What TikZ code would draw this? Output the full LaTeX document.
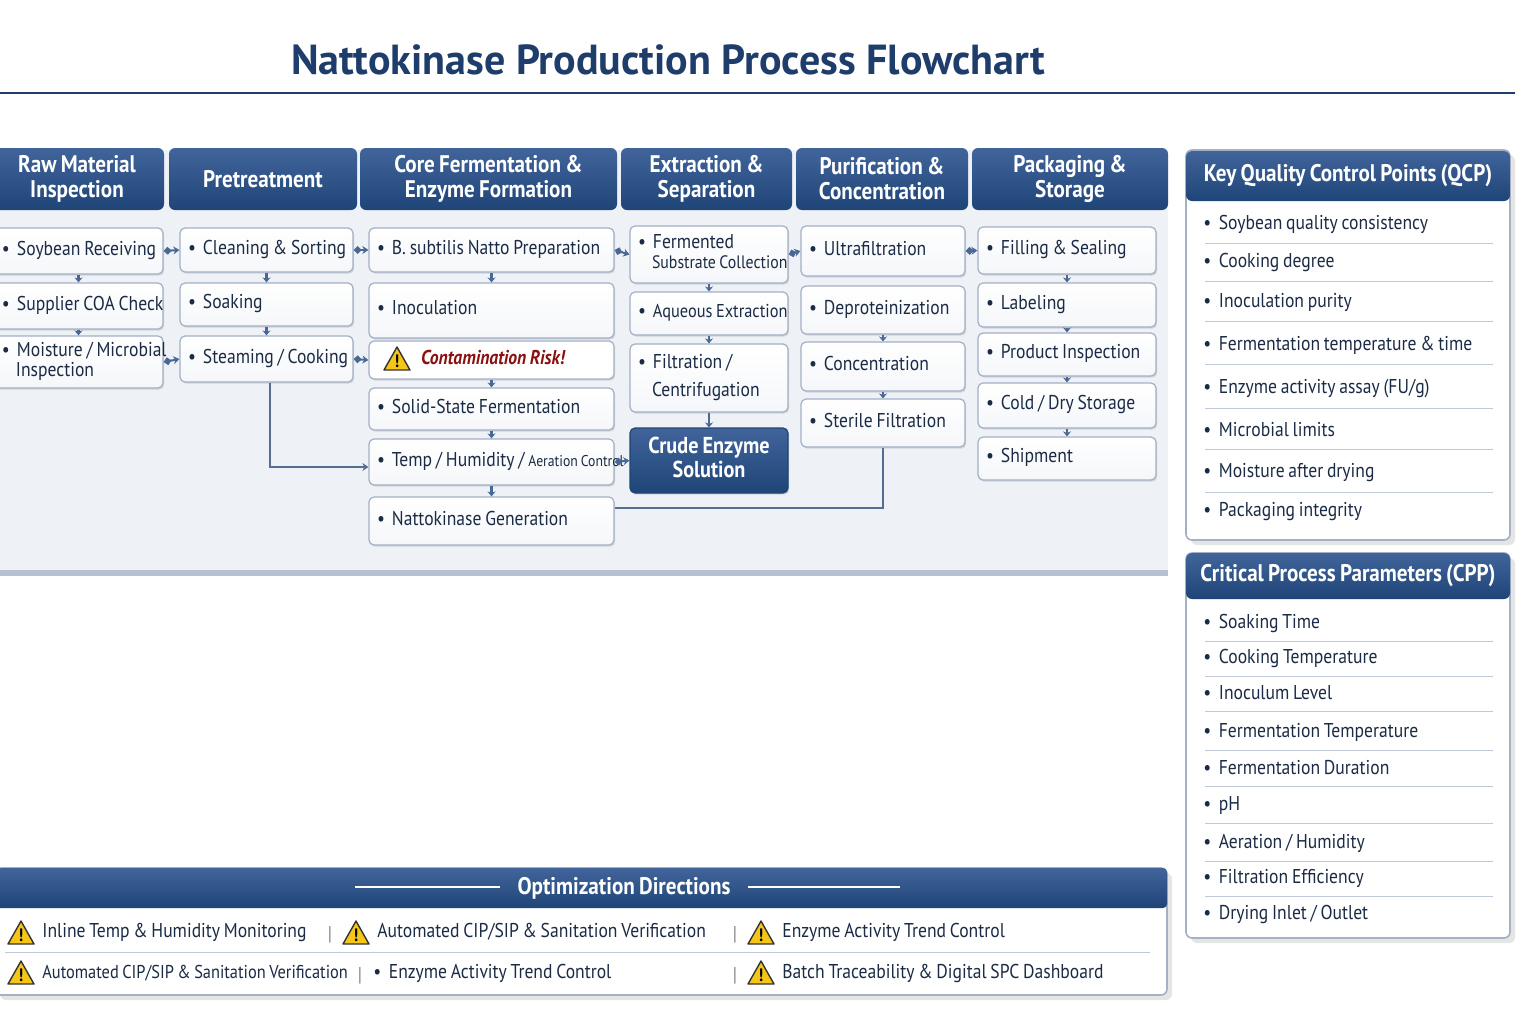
\documentclass[tikz,border=0pt]{standalone}
\usepackage{fontspec}
\setmainfont{PT Sans}[FakeStretch=0.88,WordSpace=0.8]
\newfontfamily\widefont{PT Sans}
\usetikzlibrary{arrows.meta,shadows}
\definecolor{navy}{HTML}{1F3D6B}
\definecolor{hdtop}{HTML}{41659A}
\definecolor{hdbot}{HTML}{1F4478}
\definecolor{panel}{HTML}{EEF1F6}
\definecolor{bord}{HTML}{A3B0C6}
\definecolor{txt}{HTML}{1B2B45}
\definecolor{conn}{HTML}{4A6896}
\definecolor{risk}{HTML}{8B1010}
\definecolor{warny}{HTML}{F5C518}
\tikzset{
 hdr/.style={draw=none,top color=hdtop,bottom color=hdbot,rounded corners=3pt,text=white,font=\bfseries\fontsize{12}{12.5}\selectfont,align=center,inner sep=0pt},
 box/.style={draw=bord,line width=0.6pt,rounded corners=2.5pt,top color=white,bottom color=panel!60!white,text=txt,font=\fontsize{10}{10}\selectfont,align=left,inner xsep=4pt,inner ysep=0pt,drop shadow={shadow xshift=0.6pt,shadow yshift=-0.8pt,opacity=0.25}},
 dark/.style={box,draw=hdbot,top color=hdtop,bottom color=hdbot,text=white,font=\bfseries\fontsize{11.5}{12}\selectfont,align=center},
 hc/.style={draw=conn,line width=1pt,{Diamond[length=4pt,width=4pt]}-{Stealth[length=3pt,width=4pt]}},
 vc/.style={draw=conn,line width=1.4pt,-{Stealth[length=2.5pt,width=4pt]}},
 ln/.style={draw=conn!80!gray,line width=1pt},
 item/.style={anchor=west,text=txt,font=\fontsize{10}{10}\selectfont,inner sep=0pt},
 sep/.style={draw=bord!70,line width=0.5pt},
 warn/.pic={\fill[warny,draw=black!80,line width=0.7pt,line join=round] (-13,11)--(0,-12)--(13,11)--cycle; \node[font=\bfseries\fontsize{9}{9}\selectfont,inner sep=0pt] at (0,2) {!};}
}
\newcommand\bx[8][box]{%
 \pgfmathsetmacro\ww{(#5-#3)*0.5}\pgfmathsetmacro\hh{(#6-#4)*0.5}\pgfmathsetmacro\tw{(#5-#3)*0.5-8}%
 \node[#1,minimum width=\ww pt,minimum height=\hh pt,text width=\tw pt] (#2) at ({(#3+#5)/2},{(#4+#6)/2}) {\spaceskip=0pt\xspaceskip=0pt\begin{tabular}{@{}#8@{}}#7\end{tabular}};}
\newcommand\hd[6]{%
 \pgfmathsetmacro\ww{(#4-#2)*0.5}\pgfmathsetmacro\hh{(#5-#3)*0.5}%
 \node[hdr,minimum width=\ww pt,minimum height=\hh pt] (#1) at ({(#2+#4)/2},{(#3+#5)/2}) {#6};}
\newcommand\bu{\textbullet\hspace{0.35em}}
\begin{document}
\begin{tikzpicture}[x=0.5pt,y=-0.5pt]
\useasboundingbox (0,0) rectangle (1536,1024);
\fill[white] (0,0) rectangle (1536,1024);
\node[text=navy,font=\widefont\bfseries\fontsize{21}{21}\selectfont] (title) at (668,60) {Nattokinase Production Process Flowchart};
\draw[navy,line width=0.8pt] (0,93) -- (1515,93);
% main panel
\fill[panel] (0,150) rectangle (1168,572);
\draw[bord!80,line width=3pt] (0,573) -- (1168,573);
\hd{h1}{-10}{148}{164}{210}{Raw Material\\Inspection}
\hd{h2}{169}{148}{357}{210}{Pretreatment}
\hd{h3}{360}{148}{617}{210}{Core Fermentation \&\\Enzyme Formation}
\hd{h4}{621}{148}{792}{210}{Extraction \&\\Separation}
\hd{h5}{796}{148}{968}{210}{Purification \&\\Concentration}
\hd{h6}{972}{148}{1168}{210}{Packaging \&\\Storage}
% raw
\bx{r1}{-6}{228}{163}{274}{\bu Soybean Receiving}{l}
\bx{r2}{-6}{283}{163}{329}{\bu Supplier COA Check}{l}
\bx{r3}{-6}{336}{163}{388}{\bu Moisture / Microbial\\\hspace*{0.7em}Inspection}{l}
% pre
\bx{p1}{180}{228}{353}{272}{\bu Cleaning \& Sorting}{l}
\bx{p2}{180}{283}{353}{326}{\bu Soaking}{l}
\bx{p3}{180}{336}{353}{382}{\bu Steaming / Cooking}{l}
% core
\bx{c1}{369}{228}{614}{272}{\bu B. subtilis Natto Preparation}{l}
\bx{c2}{369}{283}{614}{338}{\bu Inoculation}{l}
\bx[box,top color=white,bottom color=white]{c3}{369}{341}{614}{379}{\hspace*{2.2em}{\color{risk}\bfseries\itshape Contamination Risk!}}{l}
\pic at (397,359) {warn};
\bx{c4}{369}{388}{614}{430}{\bu Solid-State Fermentation}{l}
\bx{c5}{369}{439}{614}{485}{\bu Temp / Humidity / {\fontsize{7.8}{7.8}\selectfont Aeration Control}}{l}
\bx{c6}{369}{497}{614}{545}{\bu Nattokinase Generation}{l}
% extraction
\bx{e1}{630}{226}{788}{283}{\bu Fermented\\\hspace*{0.7em}{\fontsize{9}{9}\selectfont Substrate Collection}}{l}
\bx{e2}{630}{292}{788}{335}{\bu {\fontsize{9.3}{9.3}\selectfont Aqueous Extraction}}{l}
\bx{e3}{630}{344}{788}{412}{\bu Filtration /\\[4pt]\hspace*{0.7em}Centrifugation}{l}
\bx[dark]{e4}{630}{428}{788}{493}{Crude Enzyme\\Solution}{c}
% purification
\bx{u1}{801}{226}{965}{276}{\bu Ultrafiltration}{l}
\bx{u2}{801}{286}{965}{334}{\bu Deproteinization}{l}
\bx{u3}{801}{342}{965}{391}{\bu Concentration}{l}
\bx{u4}{801}{399}{965}{447}{\bu Sterile Filtration}{l}
% packaging
\bx{k1}{978}{227}{1156}{274}{\bu Filling \& Sealing}{l}
\bx{k2}{978}{283}{1156}{327}{\bu Labeling}{l}
\bx{k3}{978}{333}{1156}{376}{\bu Product Inspection}{l}
\bx{k4}{978}{383}{1156}{428}{\bu Cold / Dry Storage}{l}
\bx{k5}{978}{437}{1156}{480}{\bu Shipment}{l}
% connectors
\draw[hc] (r1.east) -- (p1.west);
\draw[hc] (r3.east) -- (p3.west);
\draw[hc] (p1.east) -- (c1.west);
\draw[hc] (p3.east) -- (c3.west);
\draw[hc] (c1.east) -- (e1.west);
\draw[hc] (c5.east) -- (e4.west);
\draw[hc] (e1.east) -- (u1.west);
\draw[hc] (u1.east) -- (k1.west);
\foreach \a/\b in {r1/r2,r2/r3,p1/p2,p2/p3,c1/c2,c3/c4,c4/c5,c5/c6,e1/e2,e2/e3,e3/e4,u2/u3,u3/u4,k1/k2,k2/k3,k3/k4,k4/k5}
  \draw[vc] (\a.south) -- (\b.north);
\coordinate (j1) at (270,467);
\draw[ln,-{Stealth[length=3pt,width=4pt]}] (p3.south -| j1) -- (j1) -- (c5.west |- j1);
\coordinate (j2) at (883,508);
\draw[ln] (u4.south -| j2) -- (j2) -- (c6.east |- j2);
% QCP panel
\draw[bord,line width=0.8pt,fill=white,rounded corners=3pt,drop shadow={opacity=0.2}] (1186,150) rectangle (1510,540);
\node[hdr,minimum width=162pt,minimum height=25pt] (qh) at (1348,176) {Key Quality Control Points (QCP)};
\foreach \y/\t [count=\i] in {224/{Soybean quality consistency},262/{Cooking degree},302/{Inoculation purity},345/{Fermentation temperature \& time},389/{Enzyme activity assay (FU/g)},430/{Microbial limits},473/{Moisture after drying},512/{Packaging integrity}}{
  \node[item] (q\i) at (1203,\y) {\textbullet\ \ \t};
  \ifnum\i<8 \draw[sep] (1205,\y+19) -- (1493,\y+19); \fi}
% CPP panel
\draw[bord,line width=0.8pt,fill=white,rounded corners=3pt,drop shadow={opacity=0.2}] (1186,553) rectangle (1510,938);
\node[hdr,minimum width=162pt,minimum height=23pt] (ch) at (1348,576) {Critical Process Parameters (CPP)};
\foreach \y/\t [count=\i] in {623/{Soaking Time},658/{Cooking Temperature},693/{Inoculum Level},732/{Fermentation Temperature},768/{Fermentation Duration},805/{pH},843/{Aeration / Humidity},878/{Filtration Efficiency},914/{Drying Inlet / Outlet}}{
  \node[item] (k\i) at (1203,\y) {\textbullet\ \ \t};
  \ifnum\i<9 \draw[sep] (1205,\y+18) -- (1493,\y+18); \fi}
% optimization panel
\draw[bord,line width=0.8pt,fill=white,rounded corners=3pt,drop shadow={opacity=0.2}] (-5,868) rectangle (1167,995);
\node[hdr,minimum width=586pt,minimum height=20pt,rounded corners=2pt] (oh) at (581,888) {};
\node[text=white,font=\bfseries\fontsize{12}{12}\selectfont] (ot) at (624,888) {Optimization Directions};
\draw[white,line width=0.8pt] (355,887) -- (500,887) (748,887) -- (900,887);
\draw[sep] (5,952) -- (1150,952);
\tikzset{oi/.style={item,font=\fontsize{10}{10}\selectfont}}
\pic at (21,933) {warn}; \node[oi] (o1) at (42,932) {Inline Temp \& Humidity Monitoring};
\node[text=gray] at (330,935) {|};
\pic at (356,933) {warn}; \node[oi] (o2) at (377,932) {Automated CIP/SIP \& Sanitation Verification};
\node[text=gray] at (735,935) {|};
\pic at (761,933) {warn}; \node[oi] (o3) at (782,932) {Enzyme Activity Trend Control};
\pic at (21,973) {warn}; \node[oi,font=\fontsize{9.3}{9.3}\selectfont] (o4) at (42,973) {Automated CIP/SIP \& Sanitation Verification};
\node[text=gray] at (360,976) {|};
\node[oi] (o5) at (373,973) {\textbullet\ \ Enzyme Activity Trend Control};
\node[text=gray] at (735,976) {|};
\pic at (761,973) {warn}; \node[oi] (o6) at (782,973) {Batch Traceability \& Digital SPC Dashboard};
\end{tikzpicture}
\end{document}
